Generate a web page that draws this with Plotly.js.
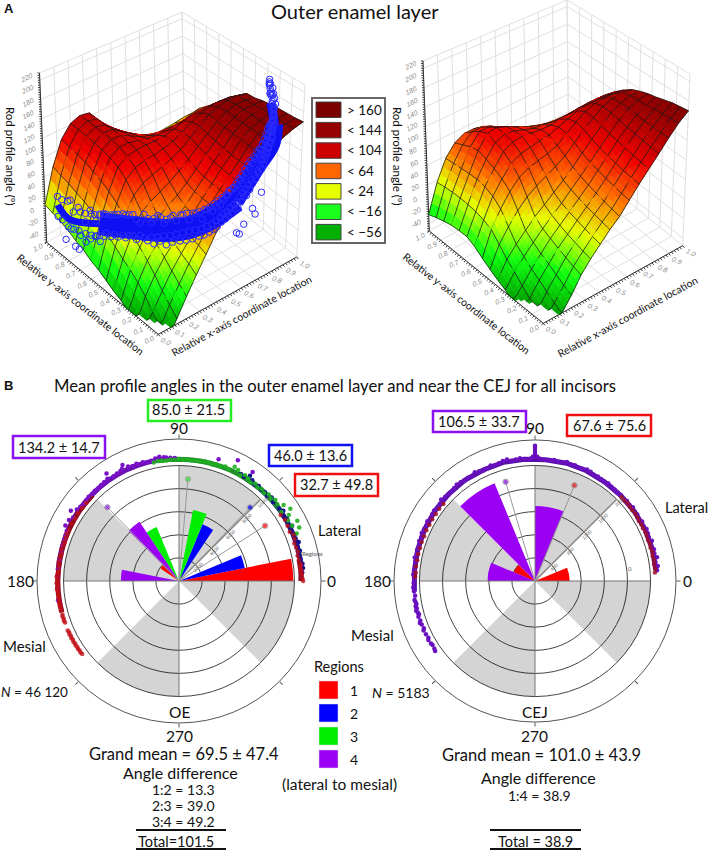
<!DOCTYPE html>
<html><head><meta charset="utf-8">
<script src="https://cdn.plot.ly/plotly-3.0.1.min.js"></script>
<style>html,body{margin:0;padding:0;background:#fff}</style></head>
<body><div id="chart" style="width:709px;height:852px"></div>
<script>
const gridCoord=[0,.0667,.1333,.2,.2667,.3333,.4,.4667,.5333,.6,.6667,.7333,.8,.8667,.9333,1];
const surfaceLeft=[
[-100,-72,-44,-18,7,31,56,74,90,106,122,140,150,158,164,168],
[-92,-60,-32,-8,15,36,58,75,91,107,123,141,152,158,163,166],
[-80,-45,-20,3,22,40,59,76,92,108,124,141,153,159,163,165],
[-68,-30,-5,15,30,45,60,77,93,110,125,142,153,159,163,164],
[-55,-18,8,26,38,50,63,79,95,112,127,143,154,160,162,162],
[-47,-8,20,42,52,62,72,84,99,115,130,145,155,160,161,160],
[-42,0,32,58,68,76,84,94,106,120,133,147,156,160,160,156],
[-35,10,48,76,88,94,99,105,113,125,137,149,155,158,158,155],
[-28,20,62,92,104,108,110,113,118,126,135,143,147,148,147,143],
[-23,30,72,104,114,117,118,117,118,122,128,132,133,133,131,128],
[-15,38,80,110,120,120,116,112,110,110,112,114,114,113,112,110],
[-10,45,86,114,124,123,115,106,100,98,97,96,96,96,96,97],
[-3,50,92,117,126,124,113,102,92,85,80,77,76,78,82,86],
[2,56,96,119,127,123,109,96,84,73,65,60,58,60,65,72],
[6,60,100,121,128,124,105,90,76,62,50,43,40,42,47,53],
[10,65,103,122,128,125,102,85,70,55,42,35,32,33,34,36]];
const surfaceRight=[
[-100,-80,-52,-33,-10,7,22,37,50,68,86,103,120,138,155,168],
[-92,-70,-46,-27,-6,10,25,40,53,70,88,105,122,138,154,166],
[-82,-60,-38,-20,-1,14,28,43,56,73,90,107,124,139,153,164],
[-70,-50,-30,-13,4,18,32,46,60,76,93,110,126,140,152,160],
[-56,-40,-22,-6,10,23,36,50,64,80,96,113,128,141,150,156],
[-48,-28,-12,2,16,29,41,55,69,84,100,116,131,143,150,153],
[-42,-18,-2,12,26,37,49,61,75,90,105,120,134,143,148,148],
[-35,-4,16,34,48,58,66,74,84,98,112,125,136,142,144,142],
[-27,10,35,55,70,78,82,86,92,104,116,126,132,134,134,132],
[-18,16,46,66,84,92,95,98,100,106,112,118,120,121,121,120],
[-12,20,52,74,94,102,104,102,100,100,102,104,106,107,107,106],
[-12,22,55,80,100,106,104,98,93,90,88,88,88,89,90,90],
[-13,23,55,85,106,108,102,94,86,80,75,72,70,70,71,72],
[-16,23,54,82,100,100,92,84,75,67,60,55,52,52,53,55],
[-20,22,53,76,90,90,84,74,64,55,46,40,36,34,35,37],
[-25,20,52,70,78,78,74,64,54,44,36,30,26,22,20,18]];
const rodX=[.05,.04,.05,.06,.04,.06,.05,.07,.06,.08,.07,.09,.08,.10,.09,.11,.11,.12,.13,.14,.15,.16,.17,.18,.19,.20,.21,.22,.23,.24,.25,.26,.27,.28,.29,.30,.31,.32,.33,.34,.35,.36,.37,.38,.39,.40,.41,.42,.43,.44,.45,.46,.47,.48,.49,.50,.51,.52,.53,.54,.55,.56,.57,.58,.59,.60,.61,.62,.63,.64,.65,.66,.67,.68,.69,.70,.71,.72,.73,.74,.75,.76,.77,.78,.79,.80,.81,.82,.83,.84,.85,.86,.87,.88,.89,.90,.91,.92,.92,.93,.93,.94,.94,.95,.95,.96,.97,.96,.95,.55,.57,.60,.66,.68,.72,.05,.06,.03];
const rodY=[.95,.90,.86,.85,.80,.78,.75,.73,.72,.70,.68,.67,.65,.64,.63,.62,.60,.57,.55,.53,.50,.49,.47,.45,.43,.41,.39,.37,.35,.34,.32,.31,.29,.28,.26,.25,.23,.21,.20,.18,.17,.15,.14,.12,.11,.10,.09,.08,.07,.07,.06,.06,.05,.05,.05,.04,.04,.04,.04,.03,.03,.03,.03,.03,.03,.03,.03,.03,.03,.03,.03,.03,.03,.03,.03,.03,.03,.03,.03,.03,.04,.04,.04,.05,.05,.06,.06,.07,.07,.08,.08,.09,.10,.11,.12,.13,.14,.14,.15,.16,.17,.18,.19,.20,.22,.23,.25,.24,.21,0,0,0,0,0,0,.8,.78,.86];
const rodZ=[25,-5,30,-15,22,-8,28,-20,15,-12,32,-5,24,-10,35,0,38,5,42,8,48,10,15,50,12,40,55,15,45,12,58,18,48,14,58,20,55,25,66,28,60,32,72,38,65,40,80,45,78,48,84,52,86,58,92,62,98,65,102,68,106,72,108,72,114,80,116,85,122,85,128,92,132,100,138,105,144,112,148,116,152,120,155,125,160,130,162,135,165,140,168,145,172,150,175,152,178,155,182,165,190,172,195,178,200,190,210,205,196,40,36,48,66,55,85,-35,-38,-30];
const rodZ2=[-8,28,-12,32,-6,30,-10,26,-4,34,-2,30,0,34,2,36,8,40,10,44,14,46,48,16,44,20,18,50,22,52,24,56,28,54,30,62,34,66,38,70,42,72,46,76,50,80,54,84,58,88,62,92,66,96,70,100,72,104,76,108,80,112,82,118,88,122,92,128,96,134,100,138,106,142,112,148,116,150,122,156,128,160,132,165,136,170,140,172,146,174,150,176,156,180,160,184,162,188,170,194,176,198,184,204,192,206,200,208,190];
const rodCoreX=[.05,.05,.1,.19,.285,.35,.41,.56,.71,.85,.92,.94];
const rodCoreY=[.95,.85,.645,.45,.28,.17,.08,.03,.03,.08,.14,.2];
const rodCoreZ=[11,2,18,28,36,48,65,85,124,138,155,180];
const legendLabels=['> 160','< 144','< 104','< 64','< 24','< −16','< −56'];
const legendColors=['#7b0000','#960000','#cc0000','#ff6600','#e6ff00','#1cff1c','#00b000'];
const regionNames=['1','2','3','4'];
const regionColors=['#ff0000','#0000ff','#00ee00','#9b00f5'];
const oeRed=[[5.625,140.625],[9900,1930]];
const oeBlue=[[16.875,61.875],[5810,5320]];
const oeGreen=[[73.125,118.125],[6270,5060]];
const oePurple=[[129.375,174.375],[6160,5040]];
const cejRed=[[11.25,146.25],[600,400]];
const cejPurple=[[78.75,123.75,168.75],[1300,1830,820]];
const oeMeans={theta:[32.7,46.0,85.0,134.2],r:[8860,8860,8860,8900]};
const cejMeans={theta:[67.6,106.5],r:[1790,1790]};
const oeDotRedT=[0,1,2,3,4,5,6,7,8,10,12,14,16,18,20,22,24,27,30,33,140,143,146,149,152,155,157,159,161,163,165,167,169,171,173,175,176,177,178,179,180,181,182,183,184,185,186,187,188,189,190,191,192,193,194,196,197,198,199,200,204,205,206,207,208,209,210,211,212,213,214,215,216,217];
const oeDotRedR=[10750,10700,10600,10650,10600,10650,10550,10600,10650,10550,10500,10600,10550,10500,10650,10700,10500,10550,10600,10500,10500,10500,10550,10500,10550,10500,10550,10500,10450,10500,10550,10450,10500,10550,10500,10450,10500,10550,10600,10500,10550,10600,10500,10550,10600,10500,10550,10500,10550,10500,10550,10500,10550,10500,10550,10500,10550,10500,10550,10500,10550,10500,10550,10500,10550,10500,10550,10500,10550,10500,10550,10500,10550,10500];
const oeDotBlueT=[2,4,6,8,10,12,14,16,18,20,22,24,26,28,30,32,34,36,38,40,42,44,46,48,50,52,54,56,58,60];
const oeDotBlueR=[10600,10700,10800,10800,10700,10600,10800,10700,10900,10750,10800,10600,10900,10700,10800,10650,10900,10700,10750,10650,10800,10600,10700,10650,10750,10600,10800,11000,10650,10700];
const oeDotGreenT=[22,24,26,27,29,31,33,34,36,38,40,42,44,46,48,50,52,54,56,58,60,62,64,66,68,70,72,74,76,78,80,82,84,86,88,90,92,94,96,98,100,102];
const oeDotGreenR=[11000,11400,10900,11500,10800,11100,11500,10700,11200,10800,10900,10700,10800,10600,10700,10600,10700,10550,10700,10800,10600,10900,11000,10600,10700,10550,10600,10500,10550,10600,10500,10550,10500,10550,10500,10550,10500,10550,10500,10500,10550,10500];
const oeDotPurpleT=[56,64,72,92,94,96,97,99,100,101,103,105,107,109,110,112,114,116,117,118,120,122,124,125,127,129,131,133,135,137,139,141,143,145,147,149,151,154,156,158,160,163,166,170,174,178,183,189];
const oeDotPurpleR=[11400,11630,11100,10650,10700,10750,10800,10900,10750,10800,10700,10650,10750,10700,10800,10750,10850,11170,10900,10800,10750,10700,11230,10800,10750,10700,10650,10700,10650,10700,10650,10600,10700,10800,11170,10700,10900,10950,10650,10600,10550,10550,10500,10500,10500,10550,10550,10600];
const oeBandPurpleT=[95,100,105,110,115,120,125,130,135,140,145,150,155,160,165,170,175];
const oeBandPurpleR=[10600,10620,10640,10640,10650,10640,10640,10630,10620,10620,10620,10600,10580,10550,10530,10520,10520];
const oeBandBlueT=[5,11,17,23,29,35,41,47,53,60];
const oeBandBlueR=[10650,10660,10680,10680,10680,10680,10660,10640,10620,10620];
const oeBandGreenT=[35,40,45,50,55,60,65,70,75,80,85,90,95,100];
const oeBandGreenR=[10700,10680,10660,10640,10620,10600,10590,10570,10560,10550,10550,10550,10560,10570];
const oeBandRedT=[0,3,6,10,null,135,140,145,150,155,160,165,170,175,180,185,190,195];
const oeBandRedR=[10560,10580,10580,10560,null,10560,10540,10540,10520,10510,10500,10490,10480,10480,10500,10500,10500,10500];
const cejDotPurpleT=[5,7,9,11,13,15,17,19,21,23,25,27,29,31,33,35,37,39,41,43,45,47,49,51,53,55,57,59,61,63,65,67,69,71,73,75,77,79,81,83,85,87,88,89,90,90,90,90,90,91,92,93,95,97,99,101,103,105,107,109,111,113,115,117,119,121,123,125,127,129,131,133,135,137,139,141,143,145,147,149,151,153,155,157,159,161,163,165,167,169,171,173,175,177,179,181,183,185,187,189,190,191,192,193,194,195,196,197,199,200,201,203,204,206,208,209,211,212,214,215];
const cejDotPurpleR=[2120,2140,2110,2150,2120,2130,2100,2140,2110,2120,2130,2100,2120,2090,2110,2100,2120,2100,2110,2090,2100,2090,2100,2100,2110,2090,2100,2110,2100,2120,2130,2110,2100,2120,2110,2130,2110,2100,2120,2110,2100,2110,2120,2150,2150,2200,2250,2300,2340,2150,2120,2110,2120,2140,2130,2120,2160,2150,2130,2120,2140,2120,2110,2130,2150,2120,2130,2120,2140,2150,2130,2120,2110,2130,2150,2120,2110,2130,2120,2100,2130,2110,2120,2130,2110,2120,2100,2110,2100,2120,2100,2090,2100,2110,2090,2100,2110,2100,2090,2110,2100,2090,2110,2100,2120,2100,2090,2110,2100,2120,2100,2090,2110,2100,2090,2110,2100,2090,2100,2110];
const cejDotRedT=[4,6,8,10,12,14,16,18,20,22,24,26,28,30,32,34,36,38,40,42,44,140,143,146,149,152,155,158,161,164,167,170,173,176,178];
const cejDotRedR=[2080,2090,2080,2090,2080,2090,2080,2090,2080,2085,2090,2080,2085,2075,2085,2090,2080,2085,2090,2080,2085,2070,2075,2070,2075,2070,2075,2070,2075,2070,2075,2070,2075,2070,2075];
const cejBandT=[5,15,25,35,45,55,65,75,85,95,105,115,125,135,145,155,165,175,185];
const cejBandR=[2100,2105,2105,2100,2095,2095,2105,2110,2105,2115,2125,2120,2125,2120,2115,2110,2100,2095,2095];
const rodTicksZ=[-40,-20,0,20,40,60,80,100,120,140,160,180,200,220];
const wallLinesZ=[-40,-8,24,56,88,120,152,184,216];
const unitTicks=[0,.1,.2,.3,.4,.5,.6,.7,.8,.9,1];
const oeRings=[2000,4000,6000,8000,10000];
const cejRings=[400,800,1200,1600,2000];

const W=709,H=852,zMin=-52,zMax=228;
const px=x=>x/W, py=y=>1-y/H;
const scale=[[-56,[0,160,0]],[-16,[16,255,16]],[24,[230,255,0]],[64,[255,112,0]],[104,[238,0,0]],[144,[160,0,0]],[180,[112,0,0]]];
function colorFor(z){
 if(z<=scale[0][0])return `rgb(${scale[0][1]})`;
 for(let k=1;k<scale.length;k++){if(z<=scale[k][0]){const a=scale[k-1],b=scale[k],t=(z-a[0])/(b[0]-a[0]);return 'rgb('+a[1].map((c,i)=>Math.round(c+(b[1][i]-c)*t)).join(',')+')';}}
 return `rgb(${scale[scale.length-1][1]})`;
}
function makeView(O,X,Y,L,R,B){
 const T0=[L[0]+R[0]-B[0],L[1]+R[1]-B[1]];
 return (x,y,z)=>{const h=(z-zMin)/(zMax-zMin);
  return [0,1].map(k=>{const f=O[k]+x*(X[k]-O[k])+y*(Y[k]-O[k]);const t=T0[k]+x*(R[k]-T0[k])+y*(L[k]-T0[k]);return f+(t-f)*h;});};
}
const viewL=makeView([158.3,334.3],[296.7,257],[46.7,242.3],[39.5,73],[305,85],[182,12]);
const viewR=makeView([543.3,323.3],[682.7,245.7],[429.3,231],[423,61],[690,74],[567,0]);
const traces=[];
function polyline(segs,color,width){
 const xs=[],ys=[];segs.forEach(s=>{s.forEach(p=>{xs.push(p[0]);ys.push(p[1]);});xs.push(null);ys.push(null);});
 traces.push({type:'scatter',mode:'lines',x:xs,y:ys,line:{color,width},hoverinfo:'skip',cliponaxis:false});
}
const tickAnn=[];
function drawBox(v){
 const walls=[];
 unitTicks.forEach(t=>{walls.push([v(t,0,zMin),v(t,1,zMin)]);walls.push([v(0,t,zMin),v(1,t,zMin)]);
  walls.push([v(t,1,zMin),v(t,1,zMax)]);walls.push([v(1,t,zMin),v(1,t,zMax)]);});
 wallLinesZ.forEach(z=>{walls.push([v(0,1,z),v(1,1,z)]);walls.push([v(1,1,z),v(1,0,z)]);});
 walls.push([v(0,1,zMax),v(1,1,zMax)]);walls.push([v(1,1,zMax),v(1,0,zMax)]);
 polyline(walls,'#e0e0e0',1);
 const ax=[[v(0,0,zMin),v(1,0,zMin)],[v(0,0,zMin),v(0,1,zMin)],[v(0,1,zMin),v(0,1,zMax)]];
 for(let i=0;i<=50;i++){const t=i/50,a=v(t,0,zMin),b=v(0,t,zMin);ax.push([a,[a[0]+1.6,a[1]+2]]);ax.push([b,[b[0]-1.8,b[1]+1.6]]);}
 for(let z=-52;z<=228;z+=4){const a=v(0,1,z);ax.push([a,[a[0]-2,a[1]]]);}
 polyline(ax,'#333',1);
 unitTicks.forEach(t=>{const a=v(t,0,zMin),b=v(0,t,zMin);
  tickAnn.push([t.toFixed(1),a[0]+8,a[1]+7,25]);tickAnn.push([t.toFixed(1),b[0]-9,b[1]+5,-25]);});
 rodTicksZ.forEach(z=>{const a=v(0,1,z);tickAnn.push([String(z),a[0]-13,a[1],-25]);});
}
function drawSurface(table,v){
 const S=3,N=table.length-1,M=N*S,NS=9;
 const at=(a,b)=>{const u=a/S,w=b/S,i=Math.min(Math.floor(u),N-1),j=Math.min(Math.floor(w),N-1),p=u-i,q=w-j;
  return table[j][i]*(1-p)*(1-q)+table[j][i+1]*p*(1-q)+table[j+1][i]*(1-p)*q+table[j+1][i+1]*p*q;};
 const slices=Array.from({length:NS},()=>({fills:{},lines:[]}));
 for(let a=0;a<M;a++)for(let b=0;b<M;b++){
  const c=[[a,b],[a+1,b],[a+1,b+1],[a,b+1]];const zs=c.map(q=>at(q[0],q[1]));
  if(Math.max(...zs)<zMin)continue;
  const pts=c.map((q,i)=>v(q[0]/M,q[1]/M,Math.max(zs[i],zMin)));
  const depth=.45*(a+.5)/M+.55*(b+.5)/M;const s=slices[Math.min(NS-1,Math.floor((1-depth)*NS))];
  const mean=zs.reduce((x,y)=>x+y,0)/4;const key=Math.round(mean/5)*5;
  (s.fills[key]=s.fills[key]||[]).push(pts);
  if(a%S===0)s.lines.push([pts[0],pts[3]]);
  if(b%S===0)s.lines.push([pts[0],pts[1]]);
  if(a===M-1)s.lines.push([pts[1],pts[2]]);
  if(b===M-1)s.lines.push([pts[3],pts[2]]);
 }
 slices.forEach(s=>{
  Object.keys(s.fills).forEach(k=>{const col=colorFor(+k),xs=[],ys=[];
   s.fills[k].forEach(p=>{p.concat([p[0]]).forEach(q=>{xs.push(q[0]);ys.push(q[1]);});xs.push(null);ys.push(null);});
   traces.push({type:'scatter',mode:'lines',x:xs,y:ys,fill:'toself',fillcolor:col,line:{color:col,width:.7},hoverinfo:'skip'});});
  polyline(s.lines,'rgba(25,25,25,0.85)',.9);
 });
}
drawBox(viewL);drawSurface(surfaceLeft,viewL);
const core=rodCoreX.map((x,i)=>viewL(x,rodCoreY[i],rodCoreZ[i]));
[[0,3,7],[2,8,23],[7,11,17],[10,12,9]].forEach(seg=>{const part=core.slice(seg[0],seg[1]);
 traces.push({type:'scatter',mode:'lines',x:part.map(p=>p[0]),y:part.map(p=>p[1]),line:{color:'#1010f5',width:seg[2],shape:'spline'},hoverinfo:'skip'});});
const rodPts=rodX.map((x,i)=>viewL(x,rodY[i],rodZ[i])).concat(rodZ2.map((z,i)=>viewL(rodX[i],rodY[i],z)));
traces.push({type:'scatter',mode:'markers',x:rodPts.map(p=>p[0]),y:rodPts.map(p=>p[1]),marker:{symbol:'circle-open',size:6.5,color:'#2a2aff',line:{width:1}},hoverinfo:'skip'});
drawBox(viewR);drawSurface(surfaceRight,viewR);

function polarSet(sub,ring,bars,means,bands,dots){
 const R=ring*5;
 traces.push({type:'barpolar',subplot:sub,theta:[67.5,157.5,247.5,337.5],r:[R,R,R,R],width:[45,45,45,45],marker:{color:'rgba(0,0,0,0.17)',line:{width:0}},hoverinfo:'skip'});
 bars.forEach(b=>traces.push({type:'barpolar',subplot:sub,theta:b.d[0],r:b.d[1],width:b.w,marker:{color:b.c,line:{width:0}},hoverinfo:'skip'}));
 [0,90,180,270].forEach(t=>traces.push({type:'scatterpolar',subplot:sub,mode:'lines',theta:[t,t],r:[0,R],line:{color:'#777',width:1},hoverinfo:'skip'}));
 traces.push({type:'scatterpolar',subplot:sub,mode:'lines',theta:[45,45],r:[0,R],line:{color:'#888',width:1.5},hoverinfo:'skip'});
 means.theta.forEach((t,i)=>traces.push({type:'scatterpolar',subplot:sub,mode:'lines+markers',theta:[t,t],r:[0,means.r[i]],line:{color:'#999',width:1},marker:{size:[0,5.5],color:means.c[i]},hoverinfo:'skip'}));
 bands.forEach(d=>traces.push({type:'scatterpolar',subplot:sub,mode:'lines',theta:d.t,r:d.r,line:{color:d.c,width:5},hoverinfo:'skip'}));
 dots.forEach(d=>traces.push({type:'scatterpolar',subplot:sub,mode:'markers',theta:d.t,r:d.r,marker:{size:d.s||4.5,color:d.c,opacity:d.o||1},hoverinfo:'skip'}));
}
oeMeans.c=['#ff0000','#0000ee','#33dd33','#8a10d8'];cejMeans.c=['#e01010','#8a10d8'];
polarSet('polar',2000,[{d:oeRed,w:[11.25,11.25],c:regionColors[0]},{d:oeBlue,w:[11.25,11.25],c:regionColors[1]},{d:oeGreen,w:[11.25,11.25],c:regionColors[2]},{d:oePurple,w:[11.25,11.25],c:regionColors[3]}],oeMeans,
 [{t:oeBandPurpleT,r:oeBandPurpleR,c:'#6a10b0'},{t:oeBandBlueT,r:oeBandBlueR,c:'#181880'},{t:oeBandGreenT,r:oeBandGreenR,c:'#1f8f2a'},{t:oeBandRedT,r:oeBandRedR,c:'#8a0a20'}],
 [{t:oeDotPurpleT,r:oeDotPurpleR,c:'#7a10c8'},{t:oeDotBlueT,r:oeDotBlueR,c:'#101090'},{t:oeDotGreenT,r:oeDotGreenR,c:'#20b020',o:.9},{t:oeDotRedT,r:oeDotRedR,c:'#c01018',o:.8}]);
polarSet('polar2',400,[{d:cejRed,w:[22.5,22.5],c:regionColors[0]},{d:cejPurple,w:[22.5,22.5,22.5],c:regionColors[3]}],cejMeans,
 [{t:cejBandT,r:cejBandR,c:'#5a10a8'}],
 [{t:cejDotPurpleT,r:cejDotPurpleR,c:'#6a10c0'},{t:cejDotRedT,r:cejDotRedR,c:'#a01020',o:.85}]);

function polar(dom,ring,range){return {domain:dom,bgcolor:'#fff',barmode:'overlay',
 radialaxis:{range:[0,range],angle:45,tickangle:0,tickvals:ring,ticktext:ring.map(String),tickfont:{size:5,color:'#666',family:'Arial'},showline:false,ticks:'',gridcolor:'#444',gridwidth:1},
 angularaxis:{direction:'counterclockwise',rotation:0,tickvals:[0,45,90,135,180,225,270,315],ticktext:['','','','','','','',''],showgrid:false,ticks:'outside',ticklen:4,linecolor:'#555',linewidth:1,tickcolor:'#555'}};}

const F='Lato';
const texts=[
 ['<b>A</b>',9,8,13,0,'Arial'],['Outer enamel layer',355,11,20],['<b>B</b>',8,385,13,0,'Arial'],
 ['Mean profile angles in the outer enamel layer and near the CEJ for all incisors',335,386,16.7],
 ['Rod profile angle (°)',10,156,11.5,90],['Relative y-axis coordinate location',80,304,10.5,37.8],['Relative x-axis coordinate location',241,316,10.5,-28.5],
 ['Rod profile angle (°)',397,156,11.5,90],['Relative y-axis coordinate location',466,303,10.5,37.8],['Relative x-axis coordinate location',627,317,10.5,-28.5],
 ['85.0 ± 21.5',189,410,14.5],['134.2 ± 14.7',59,447,14.5],['46.0 ± 13.6',310,455,14.5],['32.7 ± 49.8',336,485,14.5],
 ['106.5 ± 33.7',479,421,14.5],['67.6 ± 75.6',609,425,14.5],
 ['90',179,428,15.5],['180',20,581,15.5],['0',331,581,15.5],['270',179,736,15.5],
 ['90',535,428,15.5],['180',378,581,15.5],['0',687,581,15.5],['270',534,736,15.5],
 ['Lateral',339,530,14.5],['Lateral',686,507,14.5],['Mesial',24,646,15],['Mesial',372,635,15],
 ['<i>N</i> = 46 120',34,692,13.5],['<i>N</i> = 5183',401,692,14],
 ['OE',179,712,15.5],['CEJ',535,712,15.5],
 ['Grand mean = 69.5 ± 47.4',184,754,16.5],['Angle difference',180,772,16],['1:2 = 13.3',183,789,14],['2:3 = 39.0',183,805,14],['3:4 = 49.2',183,821,14],['Total=101.5',176,841,14.5],
 ['Grand mean = 101.0 ± 43.9',541,755,16.5],['Angle difference',538,777,16],['1:4 = 38.9',539,795,14],['Total = 38.9',535,841,14.5],
 ['Regions',339,666,14.5],['(lateral to mesial)',339,784,15.5],
 ['Regions',312,553,6],['0',630,568,6]
];
const annotations=texts.map(t=>({xref:'paper',yref:'paper',x:px(t[1]),y:py(t[2]),text:t[0],showarrow:false,xanchor:'center',yanchor:'middle',textangle:t[4]||0,font:{size:t[3],family:t[5]||F,color:t[3]<8?'#555':'#111'}}));
tickAnn.forEach(t=>annotations.push({xref:'paper',yref:'paper',x:px(t[1]),y:py(t[2]),text:'<i>'+t[0]+'</i>',showarrow:false,xanchor:'center',yanchor:'middle',textangle:t[3],font:{size:7,family:'Arial',color:'#8a8a8a'}}));
legendLabels.forEach((l,i)=>annotations.push({xref:'paper',yref:'paper',x:px(345),y:py(109.5+20.4*i),text:l,showarrow:false,xanchor:'left',yanchor:'middle',font:{size:13.5,family:F,color:'#111'}}));
regionNames.forEach((l,i)=>annotations.push({xref:'paper',yref:'paper',x:px(354),y:py(690+23*i),text:l,showarrow:false,xanchor:'center',yanchor:'middle',font:{size:14,family:F,color:'#111'}}));
const rect=(x0,y0,x1,y1,line,fill,lw)=>({type:'rect',xref:'paper',yref:'paper',x0:px(x0),x1:px(x1),y0:py(y0),y1:py(y1),line:{color:line,width:lw},fillcolor:fill});
const rule=(x0,x1,y)=>({type:'line',xref:'paper',yref:'paper',x0:px(x0),x1:px(x1),y0:py(y),y1:py(y),line:{color:'#111',width:2}});
const shapes=[rect(312,98,385,243,'#666','#fff',2),
 rect(148,400,231,421,'#22ee22','#fff',2.5),rect(13,436,105,458,'#8a10f0','#fff',2.5),rect(269,445,352,466,'#1010ee','#fff',2.5),rect(295,474,378,496,'#ee1010','#fff',2.5),
 rect(433,411,526,432,'#8a10f0','#fff',2.5),rect(567,415,651,436,'#ee1010','#fff',2.5),
 rule(136,226,830),rule(136,226,849),rule(490,581,830),rule(490,581,849)];
legendColors.forEach((c,i)=>shapes.push(rect(316,102+20.4*i,341,117.5+20.4*i,'#444',c,1)));
regionColors.forEach((c,i)=>shapes.push(rect(319,681+23*i,338,699+23*i,'#ddd',c,.5)));

const layout={width:W,height:H,margin:{l:0,r:0,t:0,b:0},paper_bgcolor:'#fff',plot_bgcolor:'rgba(0,0,0,0)',showlegend:false,annotations,shapes,
 xaxis:{range:[0,W],visible:false,domain:[0,1],fixedrange:true},yaxis:{range:[H,0],visible:false,domain:[0,1],fixedrange:true},
 polar:polar({x:[37/W,321/W],y:[1-723/H,1-439/H]},oeRings,12300),
 polar2:polar({x:[394/W,676/W],y:[1-722/H,1-440/H]},cejRings,2440)};
Plotly.newPlot('chart',traces,layout,{displayModeBar:false,staticPlot:true});
</script></body></html>
